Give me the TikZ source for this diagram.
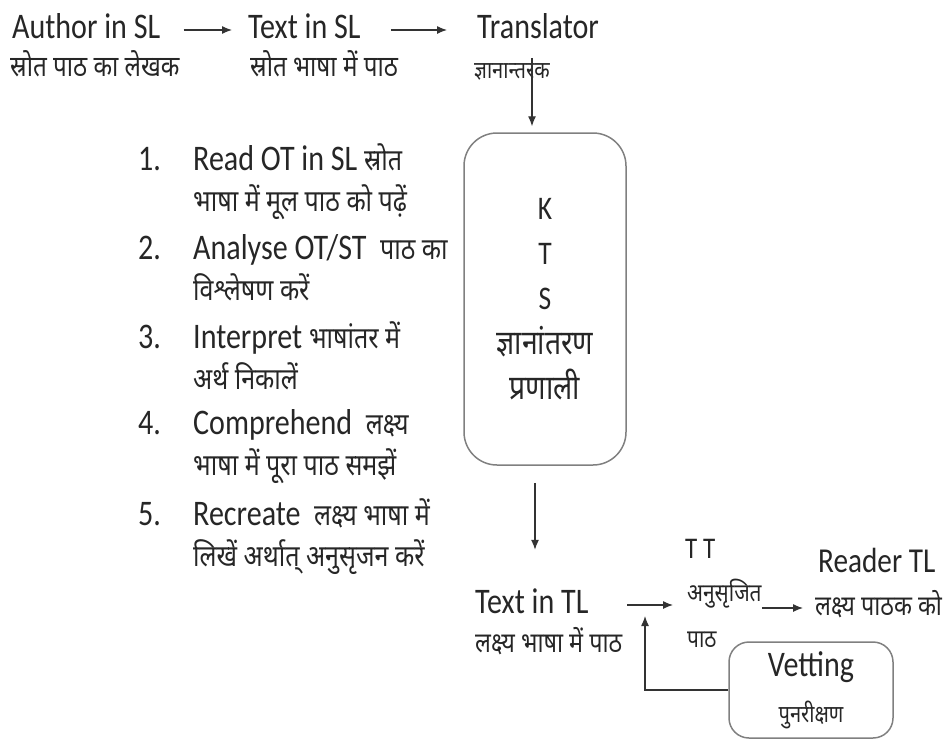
\documentclass[tikz,border=0pt]{standalone}
\usepackage{fontspec}
\setmainfont{Carlito}[FakeStretch=0.835]
\newfontfamily\hindi[Script=Devanagari,FakeStretch=0.835]{Noto Sans}
\newcommand{\dev}[1]{{\fontsize{30}{42}\selectfont\hindi #1}}
\usetikzlibrary{arrows.meta,positioning,calc}

\begin{document}
\begin{tikzpicture}[
  x=1pt, y=-1pt,
  lat/.style={font=\fontsize{36}{42}\selectfont, text=black!85, inner sep=0pt, text height=24pt, text depth=8pt, anchor=base west},
  hin/.style={font=\fontsize{30}{34}\selectfont\hindi, text=black!85, inner sep=0pt, text height=20pt, text depth=6pt, anchor=base west},
  ktsbox/.style={draw=black!50, line width=1.5pt, rounded corners=33pt, minimum width=162pt, minimum height=332pt, align=center, text=black!85, font=\fontsize{33}{45}\selectfont},
  vetbox/.style={draw=black!50, line width=1.5pt, rounded corners=20pt, minimum width=164pt, minimum height=96pt, align=center, text=black!85, font=\fontsize{36}{46}\selectfont},
  flow/.style={->, line width=1.2pt, black!80},
  >={Latex[length=10pt,width=8pt]}
]
  \useasboundingbox (0,0) rectangle (948,740);

  % Source side
  \node[lat] (author) at (12,38) {Author in SL};
  \node[hin, font=\fontsize{29}{34}\selectfont\hindi] (author-hi) at (10,76) {स्रोत पाठ का लेखक};
  \node[lat] (textsl) at (248,38) {Text in SL};
  \node[hin, font=\fontsize{29}{34}\selectfont\hindi] (textsl-hi) at (250,76) {स्रोत भाषा में पाठ};
  \node[lat] (trans) at (477,38) {Translator};
  \node[hin, font=\fontsize{24}{30}\selectfont\hindi] (trans-hi) at (474,78) {ज्ञानान्तरक};

  % Steps
  \node[lat] (n1) at (138,170) {1.};
  \node[lat] (s1) at (193,170) {Read OT in SL \dev{स्रोत}};
  \node[hin] (s1-hi) at (193,211) {भाषा में मूल पाठ को पढ़ें};
  \node[lat] (n2) at (138,259) {2.};
  \node[lat] (s2) at (193,259) {Analyse OT/ST\ \ \dev{पाठ का}};
  \node[hin] (s2-hi) at (193,300) {विश्लेषण करें};
  \node[lat] (n3) at (138,348) {3.};
  \node[lat] (s3) at (193,348) {Interpret \dev{भाषांतर में}};
  \node[hin] (s3-hi) at (193,389) {अर्थ निकालें};
  \node[lat] (n4) at (138,434) {4.};
  \node[lat] (s4) at (193,434) {Comprehend\ \ \dev{लक्ष्य}};
  \node[hin] (s4-hi) at (193,475) {भाषा में पूरा पाठ समझें};
  \node[lat] (n5) at (138,525) {5.};
  \node[lat] (s5) at (193,525) {Recreate\ \ \dev{लक्ष्य भाषा में}};
  \node[hin] (s5-hi) at (193,566) {लिखें अर्थात् अनुसृजन करें};

  % System box
  \node[ktsbox] (kts) at (545,299) {K\\T\\S\\{\fontsize{34}{44}\selectfont\hindi ज्ञानांतरण}\\{\fontsize{34}{44}\selectfont\hindi प्रणाली}};

  % Target side
  \node[lat] (texttl) at (475,613) {Text in TL};
  \node[hin, font=\fontsize{28}{34}\selectfont\hindi] (texttl-hi) at (475,652) {लक्ष्य भाषा में पाठ};
  \node[lat, font=\fontsize{30}{36}\selectfont] (tt) at (685,558) {T T};
  \node[hin, font=\fontsize{25}{30}\selectfont\hindi] (tt-hi) at (687,601) {अनुसृजित};
  \node[hin, font=\fontsize{25}{30}\selectfont\hindi] (tt-hi2) at (687,647) {पाठ};
  \node[lat, font=\fontsize{35}{40}\selectfont] (reader) at (818,572) {Reader TL};
  \node[hin, font=\fontsize{28}{34}\selectfont\hindi] (reader-hi) at (815,615) {लक्ष्य पाठक को};
  \node[vetbox] (vetting) at (811,690) {Vetting\\{\fontsize{24}{46}\selectfont\hindi पुनरीक्षण}};
  \coordinate (fbend) at (645,616);

  % Flow
  \draw[flow, shorten <=23pt, shorten >=16pt] (author.east) -- (textsl.west);
  \draw[flow, shorten <=30pt, shorten >=30pt] (textsl.east) -- (trans.west);
  \draw[flow, shorten >=6pt] ([xshift=-13pt]kts.north |- trans-hi.north) -- ([xshift=-13pt]kts.north);
  \draw[flow, shorten <=17pt, shorten >=39pt] ([xshift=-10pt]kts.south) -- ([xshift=-10pt]kts.south |- texttl.north);
  \draw[flow, shorten <=5pt, shorten >=14pt] (texttl-hi.east |- texttl) -- (tt-hi.west |- texttl);
  \draw[flow, shorten >=12pt] (tt-hi.east |- reader-hi) -- (reader-hi.west);

  % Vetting feedback
  \draw[flow] (vetting.west) -| (fbend);

\end{tikzpicture}
\end{document}
